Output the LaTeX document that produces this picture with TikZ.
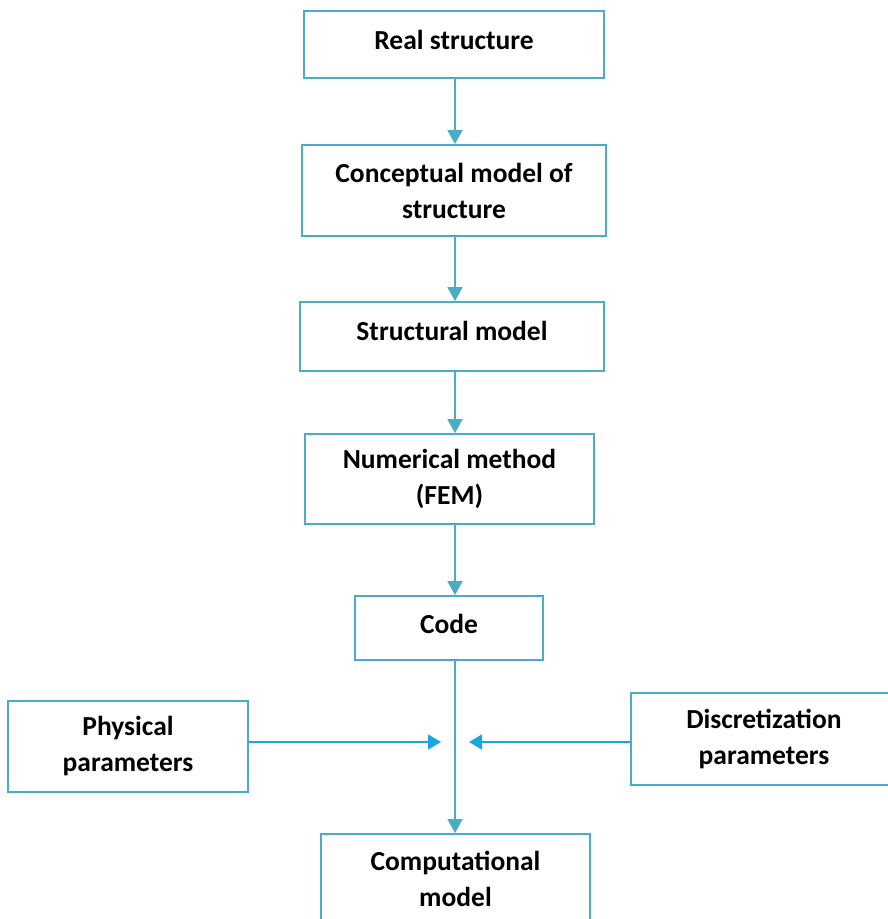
\documentclass[tikz,border=0pt]{standalone}
\usepackage{fontspec}
\setmainfont{Carlito}
\usetikzlibrary{arrows.meta}
\definecolor{boxblue}{HTML}{4BACC6}
\definecolor{arrblue}{HTML}{1AA7E0}
\begin{document}
\begin{tikzpicture}[x=1pt,y=-1pt,
  box/.style={draw=boxblue,line width=1.8pt,fill=white,inner sep=0pt,align=center,
    font=\fontsize{27.5}{36}\selectfont\bfseries},
  lbl/.style={align=center,inner sep=0pt,font=\fontsize{27.5}{36}\selectfont\bfseries},
  flow/.style={draw=boxblue,line width=1.8pt,-{Triangle[length=14pt,width=15pt]}},
  side/.style={draw=arrblue,line width=1.8pt,-{Triangle[length=13pt,width=15pt]}}]
\useasboundingbox (0,0) rectangle (887,919);
\node[box,minimum width=300pt,minimum height=67pt] (real) at (454,44.5) {};
\node[lbl] (realt) at (454,40) {Real structure};
\node[box,minimum width=304pt,minimum height=91pt] (concept) at (454,190.5) {};
\node[lbl] (conceptt) at (454,191) {Conceptual model of\\structure};
\node[box,minimum width=304pt,minimum height=69pt] (struct) at (452,336.5) {};
\node[lbl] (structt) at (452,331) {Structural model};
\node[box,minimum width=289pt,minimum height=90pt] (num) at (449.5,479) {};
\node[lbl] (numt) at (449.5,479) {Numerical method\\(FEM)};
\node[box,minimum width=188pt,minimum height=64pt] (code) at (449,628) {};
\node[lbl] (codet) at (449,624) {Code};
\node[box,minimum width=240pt,minimum height=91pt] (phys) at (128,746.5) {};
\node[lbl] (physt) at (128,746) {Physical\\parameters};
\node[box,minimum width=280pt,minimum height=92pt,anchor=west] (disc) at (630,739) {};
\node[lbl] (disct) at (764,739) {Discretization\\parameters};
\node[box,minimum width=269pt,minimum height=100pt,anchor=north] (comp) at (455.5,833) {};
\node[lbl] (compt) at (455.5,879) {Computational\\model};
\coordinate (c1) at (455,78);
\coordinate (c2) at (455,236);
\coordinate (c3) at (455,371);
\coordinate (c4) at (455,524);
\coordinate (c5) at (455,660);
\coordinate (pL) at (441,742);
\coordinate (pR) at (469,742);
\draw[flow] (c1) -- (c1 |- concept.north);
\draw[flow] (c2) -- (c2 |- struct.north);
\draw[flow] (c3) -- (c3 |- num.north);
\draw[flow] (c4) -- (c4 |- code.north);
\draw[flow] (c5) -- (c5 |- comp.north);
\draw[side] (phys.east |- pL) -- (pL);
\draw[side] (disc.west |- pR) -- (pR);
\end{tikzpicture}
\end{document}
